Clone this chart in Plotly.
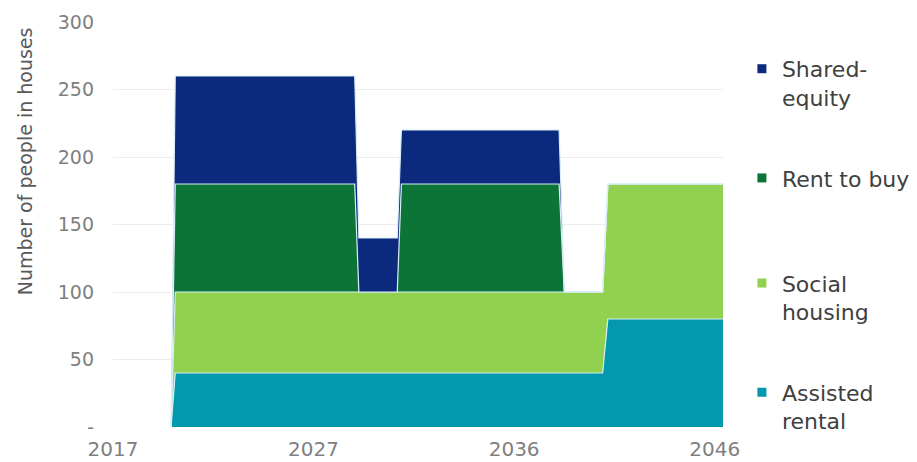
import numpy as np
import plotly.graph_objects as go

# ── data ──────────────────────────────────────────────────────────────────────
years = [2019.8, 2020.0, 2028.65, 2028.85, 2030.7, 2030.9,
         2038.5, 2038.75, 2040.6, 2040.85, 2046.4]
assisted_rental = [0, 40, 40, 40, 40, 40, 40, 40, 40, 80, 80]
social_housing = [0, 60, 60, 60, 60, 60, 60, 60, 60, 100, 100]
rent_to_buy = [0, 80, 80, 0, 0, 80, 80, 0, 0, 0, 0]
shared_equity = [0, 80, 80, 40, 40, 40, 40, 0, 0, 0, 0]

x_tick_labels = ["2017", "2027", "2036", "2046"]
y_tick_vals = [0, 50, 100, 150, 200, 250, 300]
y_tick_labels = ["-", "50", "100", "150", "200", "250", "300"]

# name, values, colour, which legend box it sits in
series = [
    ("Assisted<br>rental", assisted_rental, "#0398ad", "legend2"),
    ("Social<br>housing", social_housing, "#92d050", "legend2"),
    ("Rent to buy", rent_to_buy, "#0c7436", "legend"),
    ("Shared-<br>equity", shared_equity, "#0b2a7e", "legend"),
]

FONT = "DejaVu Sans"

fig = go.Figure()

# stacked areas
for name, vals, color, _ in series:
    fig.add_trace(
        go.Scatter(
            x=years,
            y=vals,
            stackgroup="one",
            mode="lines",
            line=dict(color="#d9eef6", width=1.2),
            fillcolor=color,
            showlegend=False,
            hoverinfo="skip",
        )
    )

# legend entries with small square markers (top to bottom)
for name, _, color, leg in reversed(series):
    fig.add_trace(
        go.Scatter(
            x=[None],
            y=[None],
            mode="markers",
            name=name,
            legend=leg,
            legendgroup=name,
            marker=dict(symbol="square", size=9, color=color),
        )
    )

legend_style = dict(
    xanchor="left",
    yanchor="top",
    font=dict(family=FONT, size=22, color="#404040"),
    tracegroupgap=49,
    itemwidth=30,
    valign="top",
    bgcolor="rgba(0,0,0,0)",
)

# the page body has an 8px margin, so the figure is sized to fit inside it
x_lo, x_hi = 2017, 2046
fig.update_layout(
    width=909,
    height=454,
    margin=dict(l=105, r=194, t=14, b=35, autoexpand=False),
    paper_bgcolor="white",
    plot_bgcolor="white",
    font=dict(family=FONT, color="#7f7f7f", size=19),
    showlegend=True,
    legend=dict(x=1.031, y=0.936, **legend_style),
    legend2=dict(x=1.031, y=0.407, **legend_style),
    xaxis=dict(
        range=[x_lo, 2046.4],
        tickvals=list(np.linspace(x_lo, x_hi, len(x_tick_labels))),
        ticktext=x_tick_labels,
        showgrid=False,
        zeroline=False,
        showline=False,
        ticks="",
        ticklabelstandoff=8,
        tickfont=dict(size=20, color="#808080"),
    ),
    yaxis=dict(
        range=[0, 300],
        tickvals=y_tick_vals,
        ticktext=y_tick_labels,
        showgrid=True,
        gridcolor="#ededed",
        gridwidth=1,
        zeroline=False,
        showline=False,
        ticks="",
        ticklabelstandoff=18,
        tickfont=dict(size=19, color="#808080"),
    ),
)

fig.add_annotation(
    text="Number of people in houses",
    textangle=-90,
    xref="paper",
    yref="paper",
    x=-0.145,
    y=0.655,
    xanchor="center",
    yanchor="middle",
    showarrow=False,
    font=dict(family=FONT, size=19, color="#595959"),
)

fig.write_html("out.html")
